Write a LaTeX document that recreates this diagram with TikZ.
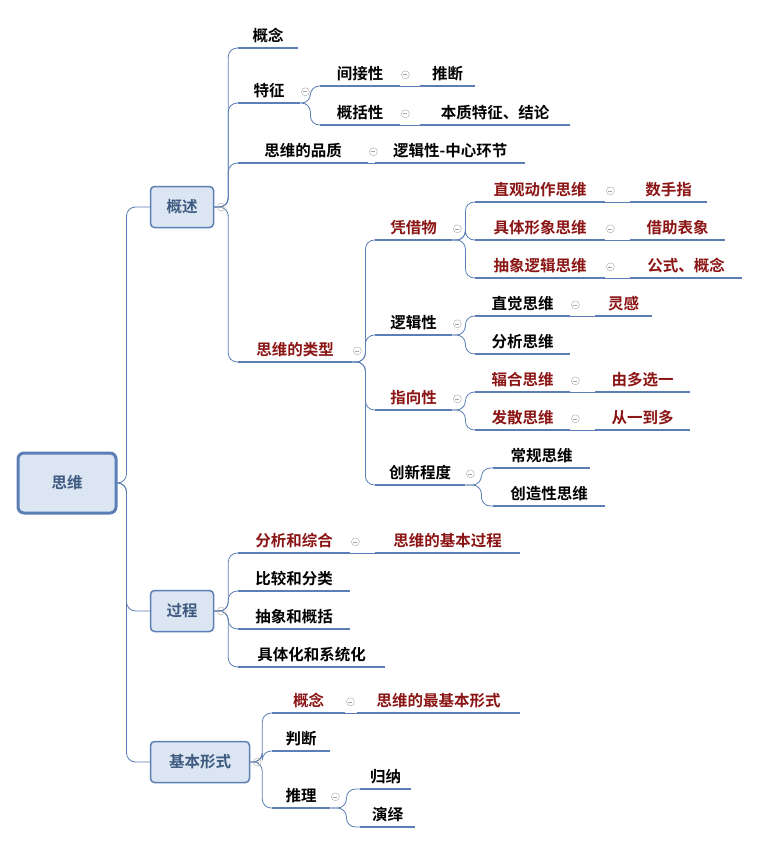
\documentclass[tikz,border=0pt]{standalone}
\usepackage{fontspec}
\newfontfamily\cjk{Noto Sans CJK SC}[BoldFont={Noto Sans CJK SC Bold}]
\definecolor{ln}{HTML}{5B7FB5}
\definecolor{dred}{HTML}{8B1414}
\definecolor{boxfill}{HTML}{DCE6F2}
\definecolor{boxtext}{HTML}{3F5A80}
\begin{document}
\begin{tikzpicture}[x=1pt,y=-1pt,
  t/.style={anchor=south west,inner xsep=10pt,inner ysep=3pt,text height=13pt,text depth=3pt,font=\cjk\bfseries\fontsize{15.5}{16}\selectfont,align=left},
  r/.style={text=dred},
  main/.style={draw=ln,fill=boxfill,rounded corners=4pt,line width=1.5pt,text=boxtext,font=\cjk\bfseries\fontsize{15.5}{16}\selectfont,minimum height=41pt},
  ul/.style={draw=ln,line width=2.2pt},
  conn/.style={draw=ln,line width=0.8pt,rounded corners=9pt},
  col/.style={draw=gray!60,line width=0.5pt,circle,minimum size=8pt,inner sep=0pt,
    path picture={\draw[gray!70,line width=0.6pt] ([xshift=-2pt]path picture bounding box.center)--([xshift=2pt]path picture bounding box.center);}}]
\useasboundingbox (0,0) rectangle (761,845);
% root and main topics
\node[main,line width=3pt,minimum width=98pt,minimum height=60pt,rounded corners=6pt] (root) at (67,483) {思维};
\node[main,minimum width=63pt] (m1) at (182,207) {概述};
\node[main,minimum width=63pt] (m2) at (182,611) {过程};
\node[main,minimum width=99pt] (m3) at (200,762) {基本形式};
% 概述
\node[t,minimum width=60pt] (c1) at (238,48) {概念};
\node[t,minimum width=62pt] (c2) at (238,103) {特征};
\node[t,minimum width=80pt] (c21) at (320,86) {间接性};
\node[t,minimum width=80pt] (c22) at (320,125) {概括性};
\node[t,minimum width=55pt] (c211) at (420,86) {推断};
\node[t,minimum width=150pt] (c221) at (420,125) {本质特征、结论};
\node[t,minimum width=130pt] (c3) at (238,163) {思维的品质};
\node[t,minimum width=150pt] (c31) at (375,163) {逻辑性-中心环节};
\node[t,r,minimum width=114pt] (c4) at (238,362) {思维的类型};
\node[t,r,minimum width=77pt] (d1) at (375,240) {凭借物};
\node[t,minimum width=77pt] (d2) at (375,335) {逻辑性};
\node[t,r,minimum width=77pt] (d3) at (375,410) {指向性};
\node[t,minimum width=90pt] (d4) at (375,485) {创新程度};
\node[t,r,minimum width=130pt] (e1) at (475,202) {直观动作思维};
\node[t,r,minimum width=130pt] (e2) at (475,240) {具体形象思维};
\node[t,r,minimum width=130pt] (e3) at (475,278) {抽象逻辑思维};
\node[t,r,minimum width=77pt] (f1) at (630,202) {数手指};
\node[t,r,minimum width=95pt] (f2) at (630,240) {借助表象};
\node[t,r,minimum width=112pt] (f3) at (630,278) {公式、概念};
\node[t,minimum width=95pt] (e4) at (475,316) {直觉思维};
\node[t,minimum width=95pt] (e5) at (475,354) {分析思维};
\node[t,r,minimum width=57pt] (f4) at (595,316) {灵感};
\node[t,r,minimum width=95pt] (e6) at (475,392) {辐合思维};
\node[t,r,minimum width=95pt] (e7) at (475,430) {发散思维};
\node[t,r,minimum width=95pt] (f6) at (595,392) {由多选一};
\node[t,r,minimum width=95pt] (f7) at (595,430) {从一到多};
\node[t,minimum width=97pt] (e8) at (493,468) {常规思维};
\node[t,minimum width=112pt] (e9) at (493,506) {创造性思维};
% 过程
\node[t,r,minimum width=112pt] (p1) at (238,553) {分析和综合};
\node[t,r,minimum width=145pt] (p11) at (375,553) {思维的基本过程};
\node[t,minimum width=112pt] (p2) at (238,591) {比较和分类};
\node[t,minimum width=112pt] (p3) at (238,629) {抽象和概括};
\node[t,minimum width=147pt] (p4) at (238,667) {具体化和系统化};
% 基本形式
\node[t,r,minimum width=73pt] (b1) at (272,713) {概念};
\node[t,r,minimum width=163pt] (b11) at (357,713) {思维的最基本形式};
\node[t,minimum width=58pt] (b2) at (272,751) {判断};
\node[t,minimum width=58pt] (b3) at (272,808) {推理};
\node[t,minimum width=50pt] (b31) at (360,789) {归纳};
\node[t,minimum width=55pt] (b32) at (360,827) {演绎};
% underlines
\foreach \n in {c1,c2,c21,c22,c211,c221,c3,c31,c4,d1,d2,d3,d4,e1,e2,e3,f1,f2,f3,e4,e5,f4,e6,e7,f6,f7,e8,e9,p1,p11,p2,p3,p4,b1,b11,b2,b3,b31,b32}
  \draw[ul] (\n.south west) -- (\n.south east);
% connectors
\foreach \m in {m1,m2,m3} \draw[conn] (root.east) -- ++(9,0) |- (\m.west);
\foreach \c in {c1,c2,c3,c4} \draw[conn] (m1.east) -- ++(14,0) |- (\c.south west);
\foreach \c in {p1,p2,p3,p4} \draw[conn] (m2.east) -- ++(14,0) |- (\c.south west);
\foreach \c in {b1,b2,b3} \draw[conn] (m3.east) -- ++(12,0) |- (\c.south west);
\foreach \c in {c21,c22} \draw[conn] (c2.south east) -- ++(10,0) |- (\c.south west);
\foreach \c in {d1,d2,d3,d4} \draw[conn] (c4.south east) -- ++(13,0) |- (\c.south west);
\foreach \c in {e1,e2,e3} \draw[conn] (d1.south east) -- ++(13,0) |- (\c.south west);
\foreach \c in {e4,e5} \draw[conn] (d2.south east) -- ++(13,0) |- (\c.south west);
\foreach \c in {e6,e7} \draw[conn] (d3.south east) -- ++(13,0) |- (\c.south west);
\foreach \c in {e8,e9} \draw[conn] (d4.south east) -- ++(16,0) |- (\c.south west);
\foreach \c in {b31,b32} \draw[conn] (b3.south east) -- ++(16,0) |- (\c.south west);
\foreach \a/\b in {c21/c211,c22/c221,c3/c31,e1/f1,e2/f2,e3/f3,e4/f4,e6/f6,e7/f7,p1/p11,b1/b11}
  \draw[conn] (\a.south east) -- (\b.south west);
% collapse markers
\foreach \n in {m1,m2,m3} \node[col] at ([xshift=7pt]\n.east) {};
\foreach \n in {c2,c21,c22,c3,c4,d1,d2,d3,d4,e1,e2,e3,e4,e6,e7,p1,b1,b3}
  \node[col] at ([xshift=5pt]\n.east) {};
\end{tikzpicture}
\end{document}
